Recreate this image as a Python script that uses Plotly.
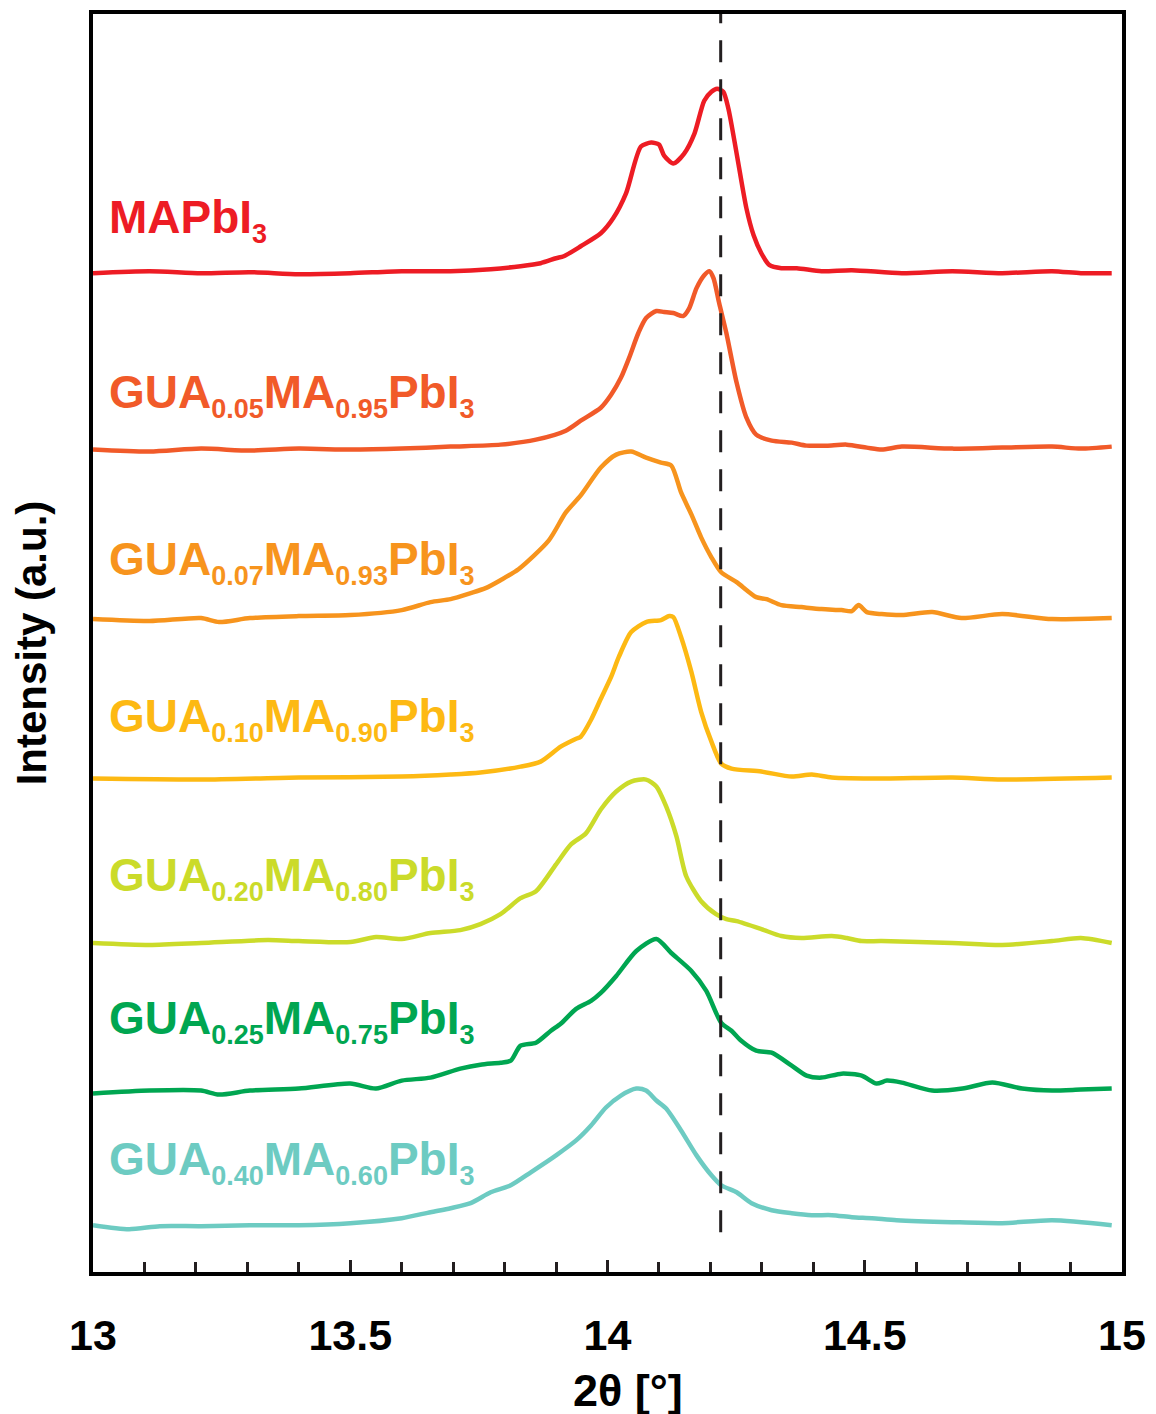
import plotly.graph_objects as go

# 2θ positions (deg) and stacked intensities (a.u.)
x_mapbi3 = [13.00, 13.11, 13.21, 13.305, 13.40, 13.50, 13.60, 13.695, 13.773, 13.831, 13.870, 13.90,
            13.915, 13.948, 13.987, 14.011, 14.036, 14.065, 14.085, 14.10, 14.11, 14.128, 14.149,
            14.169, 14.188, 14.202, 14.213, 14.225, 14.235, 14.251, 14.270, 14.284, 14.299, 14.315,
            14.338, 14.368, 14.416, 14.475, 14.572, 14.67, 14.767, 14.864, 14.92, 14.98]
y_mapbi3 = [1002, 1004, 1002, 1003, 1001, 1002, 1004, 1004, 1006, 1009, 1012, 1017,
            1019, 1029, 1042, 1057, 1082, 1129, 1133, 1131, 1120, 1112, 1122,
            1142, 1175, 1184, 1187, 1184, 1167, 1122, 1067, 1040, 1022, 1010,
            1007, 1007, 1004, 1005, 1002, 1004, 1002, 1004, 1002, 1002]

x_gua005 = [13.00, 13.11, 13.21, 13.305, 13.40, 13.50, 13.60, 13.695, 13.792, 13.861, 13.919, 13.948,
            13.987, 14.007, 14.026, 14.042, 14.06, 14.075, 14.095, 14.11, 14.128, 14.147, 14.159,
            14.173, 14.188, 14.198, 14.206, 14.217, 14.231, 14.251, 14.270, 14.289, 14.319, 14.358,
            14.387, 14.426, 14.465, 14.504, 14.533, 14.572, 14.67, 14.767, 14.864, 14.92, 14.98]
y_gua005 = [825, 823, 826, 824, 826, 825, 826, 828, 830, 835, 844, 854,
            867, 880, 897, 917, 942, 957, 964, 963, 962, 959, 967,
            987, 1000, 1004, 997, 972, 942, 892, 857, 840, 834, 832,
            829, 829, 830, 827, 825, 828, 826, 827, 828, 826, 828]

x_gua007 = [13.00, 13.11, 13.21, 13.245, 13.305, 13.40, 13.50, 13.60, 13.656, 13.695, 13.734, 13.763,
            13.792, 13.827, 13.886, 13.919, 13.948, 13.987, 14.017, 14.046, 14.075, 14.104, 14.124,
            14.143, 14.163, 14.182, 14.202, 14.221, 14.251, 14.289, 14.309, 14.338, 14.377, 14.416,
            14.455, 14.475, 14.488, 14.504, 14.533, 14.572, 14.631, 14.688, 14.767, 14.864, 14.98]
y_gua007 = [655, 653, 656, 652, 656, 658, 659, 664, 672, 675, 681, 686,
            694, 705, 734, 762, 779, 807, 820, 823, 817, 812, 809,
            782, 760, 737, 717, 702, 692, 677, 675, 669, 667, 665,
            664, 663, 669, 662, 660, 659, 662, 656, 660, 655, 656]

x_gua010 = [13.00, 13.21, 13.40, 13.60, 13.695, 13.753, 13.831, 13.870, 13.909, 13.939, 13.948,
            13.968, 13.987, 14.007, 14.022, 14.046, 14.075, 14.104, 14.12, 14.128, 14.143, 14.163,
            14.182, 14.202, 14.221, 14.241, 14.299, 14.358, 14.397, 14.436, 14.533, 14.67, 14.767, 14.98]
y_gua010 = [495, 494, 496, 497, 499, 501, 507, 512, 527, 535, 537,
            554, 575, 597, 617, 642, 652, 654, 658, 657, 637, 602,
            562, 532, 510, 505, 502, 497, 499, 496, 495, 496, 494, 496]

x_gua020 = [13.00, 13.11, 13.21, 13.34, 13.40, 13.50, 13.55, 13.60, 13.656, 13.714, 13.753, 13.792,
            13.831, 13.861, 13.90, 13.929, 13.958, 13.987, 14.017, 14.046, 14.075, 14.095, 14.114,
            14.134, 14.153, 14.182, 14.211, 14.231, 14.251, 14.299, 14.338, 14.377, 14.436, 14.465,
            14.494, 14.533, 14.67, 14.767, 14.864, 14.92, 14.98]
y_gua020 = [330, 328, 330, 333, 332, 331, 336, 334, 340, 343, 349, 359,
            375, 382, 409, 429, 440, 464, 482, 492, 494, 487, 467,
            437, 397, 372, 359, 354, 352, 344, 337, 335, 337, 335,
            332, 332, 330, 328, 332, 335, 330]

x_gua025 = [13.00, 13.11, 13.21, 13.245, 13.305, 13.40, 13.50, 13.55, 13.60, 13.656, 13.714, 13.753,
            13.792, 13.812, 13.831, 13.861, 13.89, 13.909, 13.939, 13.968, 13.987, 14.017, 14.056,
            14.095, 14.124, 14.163, 14.192, 14.221, 14.241, 14.26, 14.289, 14.319, 14.358, 14.387,
            14.416, 14.455, 14.494, 14.523, 14.543, 14.572, 14.631, 14.69, 14.748, 14.806, 14.864,
            14.92, 14.98]
y_gua025 = [179, 182, 182, 178, 182, 184, 189, 184, 192, 195, 204, 208,
            210, 212, 227, 230, 242, 249, 264, 272, 280, 297, 322,
            334, 320, 302, 282, 250, 242, 232, 222, 220, 207, 197,
            195, 199, 197, 189, 192, 190, 182, 184, 190, 184, 182,
            183, 184]

x_gua040 = [13.00, 13.07, 13.13, 13.21, 13.305, 13.40, 13.50, 13.60, 13.656, 13.695, 13.734, 13.773,
            13.812, 13.851, 13.90, 13.939, 13.968, 13.997, 14.026, 14.056, 14.075, 14.095, 14.114,
            14.143, 14.173, 14.202, 14.221, 14.251, 14.28, 14.319, 14.358, 14.397, 14.436, 14.475,
            14.514, 14.562, 14.67, 14.767, 14.864, 14.98]
y_gua040 = [47, 43, 46, 46, 47, 47, 49, 54, 60, 64, 69, 80,
            87, 100, 117, 132, 147, 165, 177, 184, 182, 172, 164,
            142, 117, 97, 87, 80, 69, 62, 59, 57, 57, 55,
            54, 52, 50, 49, 52, 47]

names = ["MAPbI<sub>3</sub>",
         "GUA<sub>0.05</sub>MA<sub>0.95</sub>PbI<sub>3</sub>",
         "GUA<sub>0.07</sub>MA<sub>0.93</sub>PbI<sub>3</sub>",
         "GUA<sub>0.10</sub>MA<sub>0.90</sub>PbI<sub>3</sub>",
         "GUA<sub>0.20</sub>MA<sub>0.80</sub>PbI<sub>3</sub>",
         "GUA<sub>0.25</sub>MA<sub>0.75</sub>PbI<sub>3</sub>",
         "GUA<sub>0.40</sub>MA<sub>0.60</sub>PbI<sub>3</sub>"]
label_y = [1055, 880, 712, 555, 395, 252, 110]
colors = ["#ED1C24", "#F15A29", "#F7941D", "#FDB913", "#CBDB2A", "#00A651", "#6DCBC2"]
ref_peak = 14.22

xs = [x_mapbi3, x_gua005, x_gua007, x_gua010, x_gua020, x_gua025, x_gua040]
ys = [y_mapbi3, y_gua005, y_gua007, y_gua010, y_gua020, y_gua025, y_gua040]

FONT = "Liberation Sans, Arial, sans-serif"

fig = go.Figure()
for x, y, c in zip(xs, ys, colors):
    fig.add_trace(go.Scatter(x=x, y=y, mode="lines",
                             line=dict(color=c, width=4.5, shape="spline", smoothing=0.7),
                             hoverinfo="skip", showlegend=False))

fig.add_trace(go.Scatter(x=[ref_peak, ref_peak], y=[40, 1262], mode="lines",
                         line=dict(color="#231F20", width=3, dash="22px,17px"),
                         hoverinfo="skip", showlegend=False))

annotations = []
for n, ly, c in zip(names, label_y, colors):
    txt = n.replace("<sub>", "<sub><span style='font-size:27px'>").replace("</sub>", "</span></sub>")
    annotations.append(dict(x=13.028, y=ly, xref="x", yref="y", text="<b>" + txt + "</b>",
                            showarrow=False, xanchor="left", yanchor="middle",
                            font=dict(family=FONT, size=46, color=c)))

# x-axis title sits slightly right of centre in the original
annotations.append(dict(x=14.04, y=0, xref="x", yref="paper", text="<b>2θ [°]</b>",
                        showarrow=False, xanchor="center", yanchor="middle", yshift=-118,
                        font=dict(family=FONT, size=45, color="black")))

fig.update_layout(
    width=1156, height=1414,
    margin=dict(l=85, r=42, t=2, b=150),
    plot_bgcolor="white", paper_bgcolor="white",
    font=dict(family=FONT, color="black"),
    annotations=annotations,
    xaxis=dict(range=[13, 15], tickvals=[13, 13.5, 14, 14.5, 15],
               ticktext=["<b>13</b>", "<b>13.5</b>", "<b>14</b>", "<b>14.5</b>", "<b>15</b>"],
               ticks="inside", ticklen=12, tickwidth=3, tickcolor="#231F20",
               minor=dict(dtick=0.1, ticks="inside", ticklen=10, tickwidth=3, tickcolor="#231F20"),
               tickfont=dict(size=43, family=FONT), ticklabelstandoff=22,
               showline=True, linecolor="black", linewidth=4, mirror=True,
               showgrid=False, zeroline=False),
    yaxis=dict(range=[0, 1262], showticklabels=False, ticks="",
               showline=True, linecolor="black", linewidth=4, mirror=True,
               showgrid=False, zeroline=False,
               title=dict(text="<b>Intensity (a.u.)</b>", font=dict(size=42, family=FONT), standoff=35)),
)

fig.write_html("out.html")
